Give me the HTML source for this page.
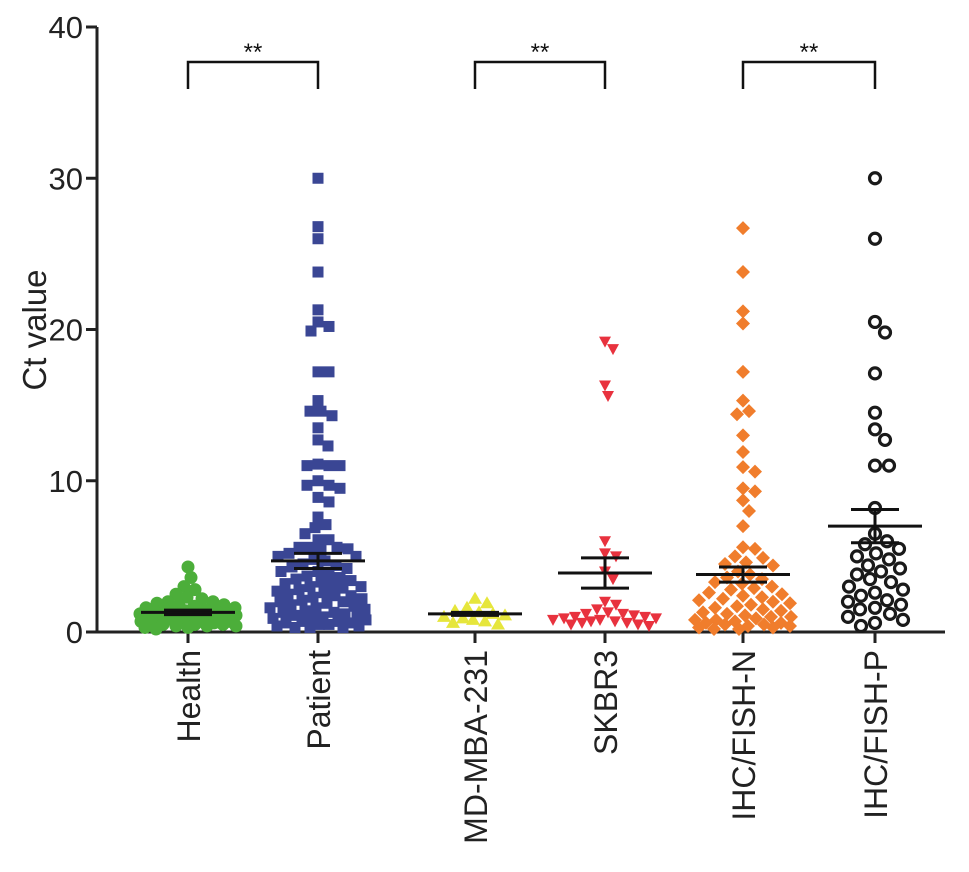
<!DOCTYPE html>
<html><head><meta charset="utf-8"><style>
body{margin:0;background:#fff}
svg{display:block;font-family:"Liberation Sans",Arial,sans-serif}
</style></head><body>
<svg id="chart" width="969" height="872" viewBox="0 0 969 872"></svg>
<script>
const categories=["Health","Patient","MD-MBA-231","SKBR3","IHC/FISH-N","IHC/FISH-P"];
const healthValues=[4.3,3.6,3.0,2.8,2.5,2.3,2.2,2.0,2.0,1.9,1.8,1.8,1.7,1.6,1.6,1.5,1.5,1.4,1.4,1.3,1.3,1.2,1.2,1.1,1.1,1.0,1.0,1.0,0.9,0.9,0.8,0.8,0.8,0.7,0.7,0.7,0.6,0.6,0.6,0.5,0.5,0.5,0.4,0.4,0.4,0.3,0.3,0.2];
const patientValues=[30,26.8,26,23.8,21.3,20.5,20.2,19.9,17.2,17.2,15.3,14.6,14.6,14.3,13.5,12.7,12.3,11.1,11.0,11.0,11.0,10.0,9.7,9.7,9.5,8.9,8.6,7.6,7.1,6.9,6.5,6.1,6.1,5.6,5.6,5.6,5.5,5.4,5.2,5.0,5.0,4.8,4.7,4.5,4.4,4.3,4.2,4.0,4.0,3.8,3.7,3.6,3.5,3.4,3.3,3.2,3.1,3.0,3.0,2.9,2.8,2.7,2.6,2.5,2.4,2.4,2.3,2.2,2.1,2.0,2.0,1.9,1.8,1.7,1.6,1.6,1.5,1.4,1.3,1.3,1.2,1.1,1.0,1.0,0.9,0.9,0.8,0.7,0.7,0.6,0.6,0.5,0.5,0.4,0.4,0.3,0.3,0.3];
const mdaValues=[2.2,1.9,1.6,1.4,1.3,1.2,1.1,1.0,0.9,0.8,0.7,0.6,0.5];
const skbrValues=[19.2,18.7,16.3,15.6,6.0,5.2,5.0,4.0,3.5,2.0,1.8,1.5,1.3,1.2,1.2,1.1,1.0,1.0,0.9,0.9,0.8,0.8,0.7,0.7,0.6,0.6,0.5,0.5,0.4];
const ihcNValues=[26.7,23.8,21.2,20.4,17.2,15.3,14.6,14.4,13.0,11.9,10.9,10.6,9.5,9.3,8.7,8.0,7.0,5.6,5.5,5.0,4.9,4.6,4.5,4.4,4.0,3.8,3.6,3.5,3.3,3.2,3.0,2.9,2.8,2.6,2.5,2.4,2.3,2.2,2.1,2.0,1.9,1.8,1.7,1.6,1.5,1.4,1.3,1.2,1.1,1.0,1.0,0.9,0.8,0.8,0.7,0.6,0.6,0.5,0.5,0.4,0.4,0.3,0.3,0.2,0.2];
const ihcPValues=[30,26,20.5,19.8,17.1,14.5,13.4,12.7,11.0,11.0,8.2,6.5,6.0,5.8,5.5,5.2,5.0,4.8,4.4,4.2,4.0,3.8,3.5,3.3,3.0,2.8,2.6,2.4,2.1,2.0,1.8,1.6,1.5,1.2,1.0,0.8,0.6,0.4];
const groupMeans=[1.3,4.7,1.2,3.9,3.8,7.0];
const groupSems=[0.15,0.5,0.1,1.0,0.5,1.1];
const yTicks=[0,10,20,30,40];
const sigPairs=[[0,1],[2,3],[4,5]];
const sigLabels=["**","**","**"];

const NS="http://www.w3.org/2000/svg";
const svg=document.getElementById("chart");
const Y0=632,YTOP=27,XL=97,XR=945;
const y=v=>Y0-(v/40)*(Y0-YTOP);
const catX=[188,318,475,605,743,875];
const x=i=>catX[i];
function el(t,a,p){const e=document.createElementNS(NS,t);for(const k in a)e.setAttribute(k,a[k]);(p||svg).appendChild(e);return e;}

const yAxis=el("line",{x1:XL,y1:YTOP,x2:XL,y2:Y0+1,stroke:"#222","stroke-width":3});


const xAxis=el("line",{x1:XL-1,y1:Y0,x2:XR,y2:Y0,stroke:"#222","stroke-width":3});


yTicks.forEach(t=>{
  const tk=el("line",{x1:XL-11,y1:y(t),x2:XL,y2:y(t),stroke:"#222","stroke-width":3});
  
  
  const lb=el("text",{x:XL-14,y:y(t)+11,"text-anchor":"end","font-size":31,fill:"#222"});
  lb.textContent=t;
  
  
});
const yt=el("text",{x:0,y:0,transform:"translate(46,330) rotate(-90)","text-anchor":"middle","font-size":33,fill:"#222"});
yt.textContent="Ct value";


categories.forEach((c,i)=>{
  const tk=el("line",{x1:x(i),y1:Y0,x2:x(i),y2:Y0+11,stroke:"#222","stroke-width":3});
  
  
  const lb=el("text",{x:0,y:0,transform:`translate(${x(i)+12},650) rotate(-90)`,"text-anchor":"end","font-size":32,fill:"#222"});
  lb.textContent=c;
  
  
});

const colors=["#4cae3a","#3a4694","#e6e63c","#e8323e","#f07d2c","#1a1a1a"];
const allGroups=[healthValues,patientValues,mdaValues,skbrValues,ihcNValues,ihcPValues];
const diam=[11,11,12,11,12,14];
const maxW=[48,48,35,52,48,30];
function marker(g,cx,cy){
  const c=colors[g];let m;
  if(g===0)m=el("circle",{cx,cy,r:6.5,fill:c});
  else if(g===1)m=el("rect",{x:cx-5.5,y:cy-5.5,width:11,height:11,fill:c});
  else if(g===2)m=el("polygon",{points:`${cx},${cy-7} ${cx+7},${cy+5} ${cx-7},${cy+5}`,fill:c});
  else if(g===3)m=el("polygon",{points:`${cx},${cy+6} ${cx+6},${cy-5} ${cx-6},${cy-5}`,fill:c});
  else if(g===4)m=el("polygon",{points:`${cx},${cy-7} ${cx+7},${cy} ${cx},${cy+7} ${cx-7},${cy}`,fill:c});
  else m=el("circle",{cx,cy,r:5.5,fill:"none",stroke:c,"stroke-width":3.2});
  return m;
}
allGroups.forEach((vals,g)=>{
  const placed=[];const d=diam[g];
  vals.forEach(v=>{
    const py=y(v);
    let best=0,bestScore=-1;
    for(let k=0;k<=2*maxW[g];k++){
      const off=k===0?0:(k%2?1:-1)*Math.ceil(k/2);
      let mind=1e9;
      placed.forEach(p=>{const dd=Math.hypot(p[0]-off,p[1]-py);if(dd<mind)mind=dd;});
      if(mind>=d){best=off;bestScore=1e9;break;}
      if(mind>bestScore){bestScore=mind;best=off;}
    }
    placed.push([best,py]);
    const m=marker(g,x(g)+best,py);
    
    
  });
});
groupMeans.forEach((mu,i)=>{
  const ml=el("line",{x1:x(i)-47,y1:y(mu),x2:x(i)+47,y2:y(mu),stroke:"#111","stroke-width":3});
  
  
  const s=groupSems[i];
  const ev=el("line",{x1:x(i),y1:y(mu-s),x2:x(i),y2:y(mu+s),stroke:"#111","stroke-width":3});
  
  
  [mu-s,mu+s].forEach(v=>{
    const cp=el("line",{x1:x(i)-24,y1:y(v),x2:x(i)+24,y2:y(v),stroke:"#111","stroke-width":3});
    
    
  });
});
sigPairs.forEach((p,i)=>{
  const a=x(p[0]),b=x(p[1]);
  const br=el("path",{d:`M${a},89 L${a},62 L${b},62 L${b},89`,fill:"none",stroke:"#111","stroke-width":2.5});
  
  
  const t=el("text",{x:(a+b)/2,y:60,"text-anchor":"middle","font-size":24,fill:"#111"});
  t.textContent=sigLabels[i];
  
  
});
</script>
</body></html>
